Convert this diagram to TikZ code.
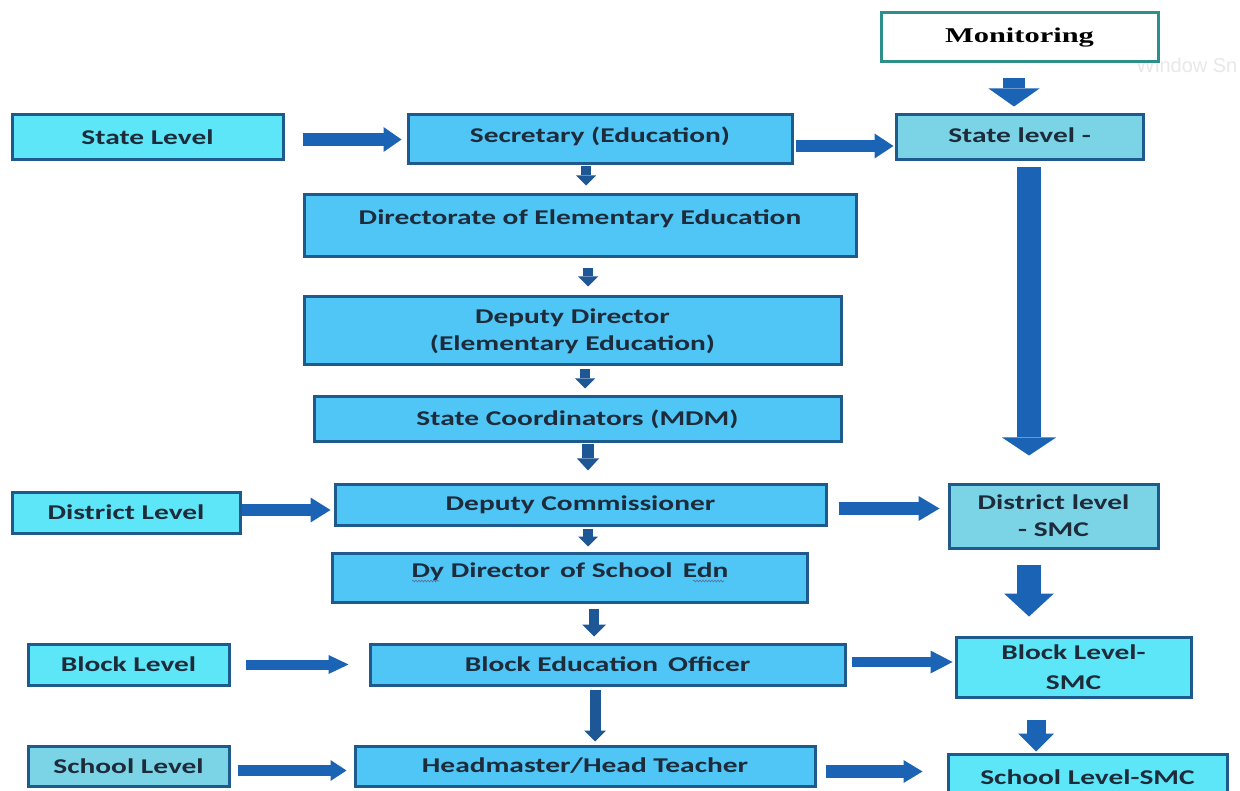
\documentclass[tikz,border=0pt]{standalone}
\usepackage{fontspec}
\usetikzlibrary{arrows.meta,decorations.pathmorphing}
\newfontfamily\lblfont{Carlito}[FakeStretch=1.4]
\newfontfamily\monfont{Liberation Serif}[FakeStretch=1.45]
\newfontfamily\wmfont{Liberation Sans}
\definecolor{bord}{HTML}{1F5A8C}
\definecolor{monbord}{HTML}{2E8F8A}
\definecolor{txtc}{HTML}{1E2B3B}
\definecolor{cyanL}{HTML}{5DE6F7}
\definecolor{sky}{HTML}{4FC6F5}
\definecolor{tealL}{HTML}{7BD4E6}
\definecolor{arrc}{HTML}{1A63B5}
\definecolor{arrd}{HTML}{1D5796}
\definecolor{squig}{HTML}{5A6E9A}
\tikzset{
  box/.style={draw=bord, line width=3pt, inner sep=0pt, text=txtc, align=center,
    font=\lblfont\bfseries\fontsize{21}{27}\selectfont},
  fat/.style n args={3}{draw=arrc, line width=#1,
    -{Triangle[length=#2, width=#3, line width=0pt]}},
  squiggle/.style={squig, line width=0.6pt, decorate, decoration={snake, amplitude=0.9pt, segment length=3pt}},
}
\begin{document}
\begin{tikzpicture}[x=1pt,y=-1pt]
\clip (0,0) rectangle (1240,791);
\fill[white] (0,0) rectangle (1240,791);

% faint watermark
\node[anchor=west, text=black!9, font=\wmfont\fontsize{20}{22}\selectfont, inner sep=0pt] (wm) at (1136,65) {Window Sn};

% boxes
\node[box, draw=monbord, fill=white, minimum width=277, minimum height=49,
  font=\monfont\bfseries\fontsize{21}{25}\selectfont, text=black] (mon) at (1019.5,37.5) {Monitoring};
\node[box, fill=cyanL, minimum width=271, minimum height=45] (stateL) at (147.5,137.5) {State Level};
\node[box, fill=sky, minimum width=384, minimum height=49] (sec) at (600,139.5) {\raisebox{10pt}{Secretary (Education)}};
\node[box, fill=tealL, minimum width=247, minimum height=45] (stateR) at (1019.5,137.5) {\raisebox{5pt}{State level -}};
\node[box, fill=sky, minimum width=552, minimum height=62] (dir) at (580,226) {\raisebox{18pt}{Directorate of Elementary Education}};
\node[box, fill=sky, minimum width=537, minimum height=68] (dd) at (572.5,331) {Deputy Director\\(Elementary Education)};
\node[box, fill=sky, minimum width=527, minimum height=45] (sc) at (577.5,419.5) {State Coordinators (MDM)};
\node[box, fill=cyanL, minimum width=228, minimum height=41] (distL) at (126,512.5) {District Level};
\node[box, fill=sky, minimum width=491, minimum height=41] (dc) at (580.5,504.5) {Deputy Commissioner};
\node[box, fill=tealL, minimum width=209, minimum height=64] (distR) at (1053.5,516) {District level\\- SMC};
\node[box, fill=sky, minimum width=475, minimum height=49] (dyd) at (570,577.5) {\raisebox{14pt}{Dy Director\, of School\, Edn}};
\node[box, fill=cyanL, minimum width=201, minimum height=41] (blockL) at (128.5,664.5) {Block Level};
\node[box, fill=sky, minimum width=475, minimum height=41] (beo) at (607.5,664.5) {Block Education\, Officer};
\node[box, fill=cyanL, minimum width=235, minimum height=60] (blockR) at (1073.5,667) {Block Level-\\[3pt]SMC};
\node[box, fill=tealL, minimum width=201, minimum height=40] (schoolL) at (128.5,766) {School Level};
\node[box, fill=sky, minimum width=460, minimum height=40] (hm) at (585,766) {Headmaster/Head Teacher};
\node[box, fill=cyanL, minimum width=279, minimum height=46] (schoolR) at (1087.5,777) {School Level-SMC};

% spelling squiggles
\draw[squiggle] (412,581) -- (439,581);
\draw[squiggle] (693,581) -- (724,581);

% horizontal arrows
\draw[fat={13pt}{18pt}{25pt}, shorten <=18pt, shorten >=5pt] ([yshift=-2pt]stateL.east) -- ([yshift=-2pt]stateL.east -| sec.west);
\draw[fat={12pt}{19pt}{25pt}, shorten <=2pt, shorten >=1pt] ([yshift=-6.5pt]sec.east) -- ([yshift=-6.5pt]sec.east -| stateR.west);
\draw[fat={12pt}{20pt}{25pt}, shorten <=0pt, shorten >=3pt] ([yshift=2.5pt]distL.east) -- ([yshift=2.5pt]distL.east -| dc.west);
\draw[fat={13pt}{21pt}{25pt}, shorten <=11pt, shorten >=8pt] ([yshift=-4pt]dc.east) -- ([yshift=-4pt]dc.east -| distR.west);
\draw[fat={10pt}{20pt}{19pt}, shorten <=15pt, shorten >=20pt] (blockL.east) -- (blockL.east -| beo.west);
\draw[fat={10pt}{22pt}{23pt}, shorten <=5pt, shorten >=2pt] ([yshift=2.5pt]beo.east) -- ([yshift=2.5pt]beo.east -| blockR.west);
\draw[fat={11pt}{16pt}{21pt}, shorten <=7pt, shorten >=7pt] ([yshift=-4.5pt]schoolL.east) -- ([yshift=-4.5pt]schoolL.east -| hm.west);
\draw[fat={13pt}{19pt}{23pt}, shorten <=9pt, shorten >=24pt] ([yshift=-5.5pt]hm.east) -- ([yshift=-5.5pt]hm.east -| schoolR.west);

% central vertical arrows
\draw[fat={10pt}{10pt}{20pt}, draw=arrd, shorten <=1pt, shorten >=8pt] ([xshift=-14pt]sec.south) -- ([xshift=-14pt]sec.south |- dir.north);
\draw[fat={10pt}{10pt}{20pt}, draw=arrd, shorten <=10pt, shorten >=9pt] ([xshift=8pt]dir.south) -- ([xshift=8pt]dir.south |- dd.north);
\draw[fat={10pt}{10pt}{20pt}, draw=arrd, shorten <=3pt, shorten >=7pt] ([xshift=12.5pt]dd.south) -- ([xshift=12.5pt]dd.south |- sc.north);
\draw[fat={12pt}{12pt}{22pt}, draw=arrd, shorten <=1pt, shorten >=12pt] ([xshift=10.5pt]sc.south) -- ([xshift=10.5pt]sc.south |- dc.north);
\draw[fat={10pt}{10pt}{20pt}, draw=arrd, shorten <=2pt, shorten >=5pt] ([xshift=7.5pt]dc.south) -- ([xshift=7.5pt]dc.south |- dyd.north);
\draw[fat={10pt}{12pt}{24pt}, draw=arrd, shorten <=5pt, shorten >=6pt] ([xshift=24pt]dyd.south) -- ([xshift=24pt]dyd.south |- beo.north);
\draw[fat={11pt}{11pt}{22pt}, draw=arrd, shorten <=3pt, shorten >=3pt] ([xshift=-12.5pt]beo.south) -- ([xshift=-12.5pt]beo.south |- hm.north);

% right column arrows
\draw[fat={22pt}{18pt}{51pt}, shorten <=15pt, shorten >=7pt] ([xshift=-5.5pt]mon.south) -- ([xshift=-5.5pt]mon.south |- stateR.north);
\draw[fat={24pt}{18pt}{54pt}, shorten <=6pt, shorten >=27pt] ([xshift=9.5pt]stateR.south) -- ([xshift=9.5pt]stateR.south |- distR.north);
\draw[fat={24pt}{23pt}{50pt}, shorten <=15pt, shorten >=19pt] ([xshift=-24.5pt]distR.south) -- ([xshift=-24.5pt]distR.south |- blockR.north);
\draw[fat={19pt}{18pt}{36pt}, shorten <=21pt, shorten >=1pt] ([xshift=-37.5pt]blockR.south) -- ([xshift=-37.5pt]blockR.south |- schoolR.north);
\end{tikzpicture}
\end{document}
